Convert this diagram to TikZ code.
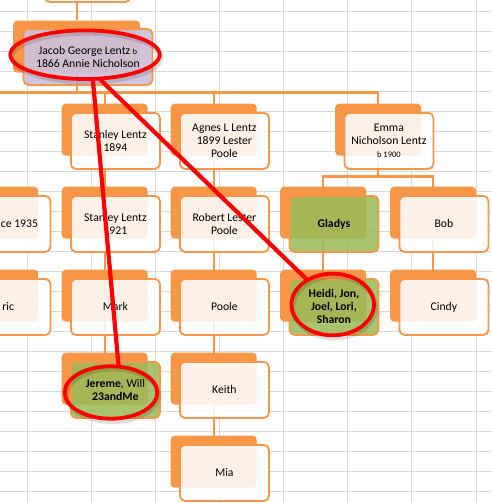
\documentclass[tikz,border=0pt]{standalone}
\usepackage{fontspec}
\setmainfont{Carlito}
\usetikzlibrary{shapes.geometric,backgrounds}
\definecolor{cardorange}{HTML}{F79646}
\definecolor{cardgreen}{HTML}{9BBB59}
\definecolor{cardlilac}{HTML}{CCC1DA}
\definecolor{gridgray}{HTML}{D9D9D9}
\definecolor{ringred}{HTML}{FF0000}
\begin{document}
\begin{tikzpicture}[x=1pt, y=-1pt, line join=round, font=\fontsize{11.7}{13}\selectfont,
		back/.style={fill=cardorange, rounded corners=4pt, anchor=north west, inner sep=0pt, minimum width=86pt, minimum height=52pt},
		front/.style={fill=#1, fill opacity=.87, text opacity=1, draw=cardorange, draw opacity=1, line width=1.8pt, rounded corners=5pt, anchor=north west, align=center, inner sep=1pt, minimum width=89pt, minimum height=56pt},
		link/.style={draw=cardorange, line width=2.4pt},
		gridline/.style={draw=gridgray, line width=.9pt},
		ring/.style={ellipse, draw=ringred, line width=3.8pt, inner sep=0pt},
		ringshade/.style={ellipse, draw=black, draw opacity=.13, line width=4.5pt, inner sep=0pt},
		redline/.style={draw=ringred, line width=4.2pt, line cap=round}]
			\useasboundingbox (0,0) rectangle (491,503);
			
			\node[back, minimum width=82pt] (top-b) at (35.5,-63.4) {};
			\node[front=white, minimum width=85.5pt] (top) at ([shift={(8.5,8.5)}]top-b.north west) {};
			\node[back, minimum width=127pt] (jacob-b) at (13,20.5) {};
			\node[front=cardlilac, fill opacity=.93, minimum width=129pt] (jacob) at ([shift={(9.5,7.5)}]jacob-b.north west) {Jacob George Lentz {\fontsize{8}{9}\selectfont b}\\1866 Annie Nicholson};
			
			\foreach \n/\x/\y/\f/\txt in {
				stanley94/61.5/103.5/white/{Stanley Lentz\\1894},
				agnes/170.5/103.5/white/{Agnes L Lentz\\1899 Lester\\Poole},
				emma/335/103.5/white/{Emma\\Nicholson Lentz\\{\fontsize{8.5}{9}\selectfont b 1900}},
				left35/-48/186.5/white/{\hspace*{27pt}ce 1935},
				stanley21/61.5/186.5/white/{Stanley Lentz\\1921},
				robert/170.5/186.5/white/{Robert Lester\\Poole},
				gladys/280/186.5/cardgreen/{\textbf{Gladys}},
				bob/390/186.5/white/{Bob},
				eric/-48/269.5/white/{\hspace*{4.7pt}ric},
				mark/61.5/269.5/white/{Mark},
				poole/170.5/269.5/white/{Poole},
				heidi/280/269.5/cardgreen/{\textbf{Heidi, Jon,}\\\textbf{Joel, Lori,}\\\textbf{Sharon}},
				cindy/390/269.5/white/{Cindy},
				jereme/61.5/352.5/cardgreen/{\textbf{Jereme}, Will\\\textbf{23andMe}},
				keith/170.5/352.5/white/{Keith},
				mia/170.5/435.5/white/{Mia}}{
				\node[back] (\n-b) at (\x,\y) {};
				\node[front=\f] (\n) at ([shift={(8.5,8.5)}]\n-b.north west) {\txt};
			}
			
			\begin{scope}[on background layer]
				\foreach \k in {0,...,7} \draw[gridline] (27+64.15*\k,0) -- (27+64.15*\k,503);
				\foreach \k in {0,...,24} \draw[gridline] (0,11.5+20*\k) -- (491,11.5+20*\k);
				\coordinate (busleft) at (-10,92.5);
				\draw[link] (top-b) -- (jacob-b);
				\draw[link] (jacob-b.center) |- (busleft);
				\foreach \c in {stanley94,agnes,emma} \draw[link] (jacob-b.center) |- ([yshift=11pt]\c-b.north) -- (\c-b.north);
				\foreach \c in {gladys,bob} \draw[link] (emma-b.center) |- ([yshift=10pt]\c-b.north) -- (\c-b.north);
				\foreach \a/\b in {stanley94/stanley21,stanley21/mark,mark/jereme,agnes/robert,robert/poole,poole/keith,keith/mia,gladys/heidi,bob/cindy,left35/eric} \draw[link] (\a-b) -- (\b-b);
			\end{scope}
			
			\foreach \n/\x/\y/\w/\h in {jacob/85/54.7/149.4/48.6, jereme/111/392.5/92.6/52.4, heidi/332.7/304.5/82.6/61.6}{
				\node[ringshade, minimum width=\w, minimum height=\h] (\n-shade) at (\x+1.5,\y+3) {};
				\node[ring, minimum width=\w, minimum height=\h] (\n-ring) at (\x,\y) {};
			}
			\draw[redline] (jacob-ring.-73) -- (jereme-ring.75);
			\draw[redline] (jacob-ring.-58) -- (heidi-ring.136);
		\end{tikzpicture}
\end{document}
